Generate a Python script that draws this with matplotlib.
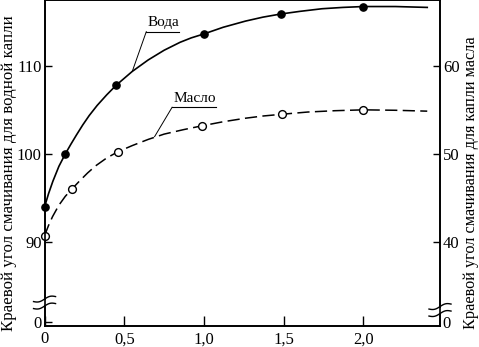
import numpy as np
import matplotlib
matplotlib.use("Agg")
import matplotlib.pyplot as plt

plt.rcParams['font.family'] = ['Liberation Serif', 'DejaVu Serif']

# Measured points (x, contact angle read on the left scale)
water_x = [0.0, 0.13, 0.45, 1.0, 1.48, 2.0]
water_y = [94.0, 100.0, 107.8, 113.6, 115.85, 116.7]
# oil angles on the right scale (right = left - 50)
oil_x = [0.0, 0.17, 0.46, 0.99, 1.49, 2.0]
oil_y = [40.75, 46.0, 50.25, 53.2, 54.5, 55.0]

# Fitted curves
water_curve_x = [0.0, 0.025, 0.052, 0.09, 0.13, 0.165, 0.2, 0.24, 0.28, 0.33, 0.39, 0.45,
                 0.55, 0.65, 0.75, 0.85, 0.92, 1.0, 1.12, 1.26, 1.37, 1.48, 1.6, 1.74,
                 1.87, 2.0, 2.2, 2.4]
water_curve_y = [94.0, 95.5, 96.9, 98.6, 100.0, 101.1, 102.15, 103.3, 104.35, 105.5, 106.7, 107.8,
                 109.35, 110.65, 111.75, 112.65, 113.15, 113.6, 114.35, 115.05, 115.5, 115.85, 116.15, 116.45,
                 116.6, 116.7, 116.7, 116.6]
oil_curve_x = [0.0, 0.025, 0.05, 0.09, 0.13, 0.17, 0.22, 0.27, 0.32, 0.39, 0.46, 0.55, 0.65,
               0.75, 0.87, 0.99, 1.12, 1.26, 1.37, 1.49, 1.65, 1.82, 2.0, 2.2, 2.4]
oil_curve_y = [40.75, 41.9, 42.9, 44.2, 45.2, 46.0, 46.95, 47.85, 48.65, 49.55, 50.25, 50.95, 51.65,
               52.25, 52.75, 53.2, 53.65, 54.05, 54.3, 54.5, 54.75, 54.9, 55.0, 54.95, 54.85]

offset = 50  # left scale = right scale + 50

fig = plt.figure(figsize=(4.79, 3.47), dpi=100)
ax = fig.add_axes([0.093, 0.0614, 0.8256, 0.9386])
ax.set_xlim(0, 2.48)
ax.set_ylim(80.55, 117.44)

ax.plot(water_curve_x, water_curve_y, color='black', lw=1.2)
ax.plot(water_x, water_y, 'o', color='black', ms=5.2, clip_on=False, zorder=4)
oil_left = [v + offset for v in oil_curve_y]
ax.plot(oil_curve_x, oil_left, color='black', lw=1.1, dashes=(8, 3.5))
ax.plot(oil_x, [v + offset for v in oil_y], 'o', mfc='white', mec='black', mew=1.0, ms=5.6,
        clip_on=False, zorder=4)

ax.set_xticks([0, 0.5, 1.0, 1.5, 2.0])
ax.set_xticklabels(['0', '0,5', '1,0', '1,5', '2,0'])
ax.set_yticks([81.0, 90, 100, 110])
ax.set_yticklabels(['0', '90', '100', '110'])
ax.tick_params(direction='in', labelsize=12, length=5, width=1, pad=2)
ax.tick_params(axis='x', length=7, pad=4)
ax.yaxis.get_major_ticks()[0].tick1line.set_visible(False)

ax2 = ax.twinx()
ax2.set_ylim(80.55 - offset, 117.44 - offset)
ax2.set_yticks([31.0, 40, 50, 60])
ax2.set_yticklabels(['0', '40', '50', '60'])
ax2.tick_params(direction='in', labelsize=12, length=5, width=1, pad=2)
ax2.yaxis.get_major_ticks()[0].tick2line.set_visible(False)

for a in (ax, ax2):
    for s in a.spines.values():
        s.set_linewidth(1.2)

fig.text(0.018, 0.5, 'Краевой угол смачивания для водной капли', rotation=90,
         ha='center', va='center', fontsize=12.2)
fig.text(0.983, 0.474, 'Краевой угол смачивания для капли масла', rotation=90,
         ha='center', va='center', fontsize=11.7)

# curve labels with leader lines
ax.text(0.745, 114.1, 'Вода', ha='center', va='bottom', fontsize=11)
ax.plot([0.638, 0.846], [113.85, 113.85], color='black', lw=0.8)
ax.plot([0.638, 0.55], [113.85, 109.35], color='black', lw=0.7)
ax.text(0.94, 105.5, 'Масло', ha='center', va='bottom', fontsize=11)
ax.plot([0.80, 1.075], [105.29, 105.29], color='black', lw=0.8)
ax.plot([0.80, 0.69], [105.29, 101.96], color='black', lw=0.7)

# axis break marks on both spines
W, H = 395.5, 325.7
def brk(xc, yc):
    t = np.linspace(-1, 1, 20)
    for dy in (-3.5, 3.5):
        xs = xc + t * 11 / W
        ys = yc + (dy + 2.5 * t + 1.5 * np.sin(t * np.pi)) / H
        ax.plot(xs, ys, color='black', lw=1.0, transform=ax.transAxes, clip_on=False, zorder=6)
    ax.add_patch(plt.Rectangle((xc - 2 / W, yc - 2.5 / H), 4 / W, 5 / H, transform=ax.transAxes,
                               facecolor='white', edgecolor='none', clip_on=False, zorder=5))

brk(0.0, 0.071)
brk(1.0, 0.048)

fig.savefig('out.png', dpi=100)
